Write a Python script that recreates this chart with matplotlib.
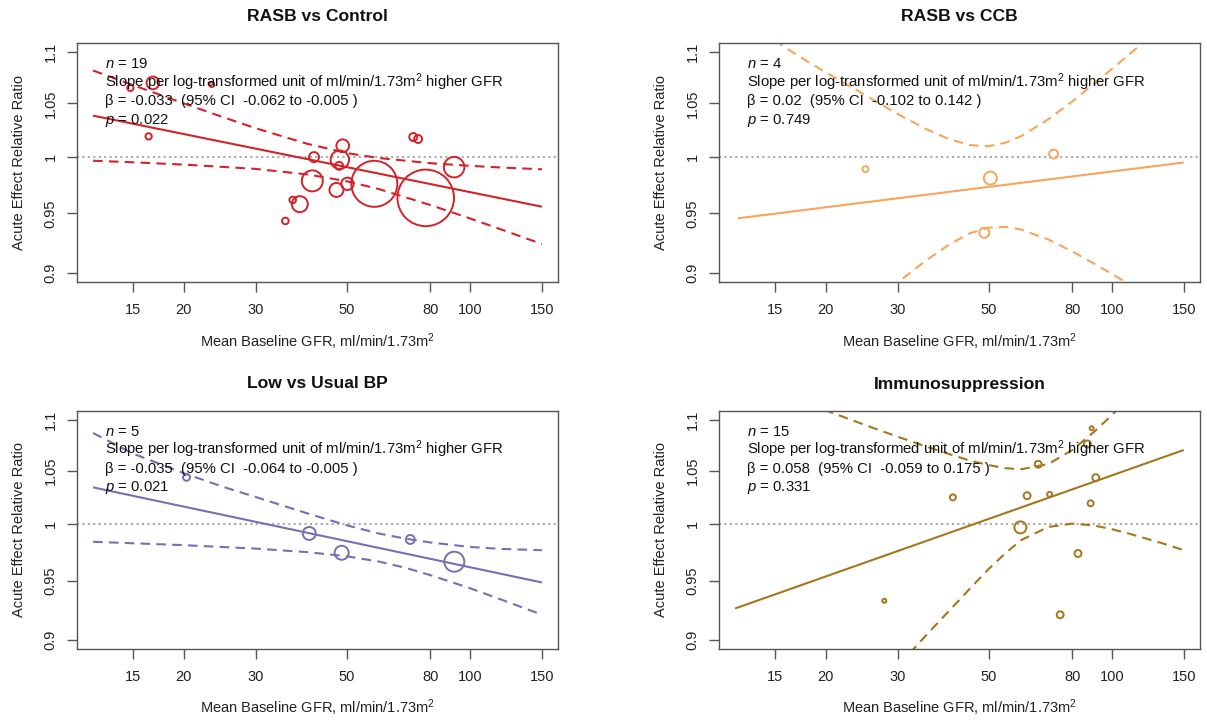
import matplotlib
matplotlib.use("Agg")
import matplotlib.pyplot as plt
from matplotlib.ticker import FixedLocator, NullLocator, FixedFormatter
import numpy as np

plt.rcParams['font.family'] = ['Liberation Sans', 'DejaVu Sans']
plt.rcParams['mathtext.fontset'] = 'custom'
plt.rcParams['mathtext.rm'] = 'Liberation Sans'
plt.rcParams['mathtext.it'] = 'Liberation Sans:italic'
plt.rcParams['mathtext.bf'] = 'Liberation Sans:bold'

# ---------------- data ----------------
x_ticks = [15, 20, 30, 50, 80, 100, 150]
x_tick_labels = ["15", "20", "30", "50", "80", "100", "150"]
y_ticks = [0.9, 0.95, 1.0, 1.05, 1.1]
y_tick_labels = ["0.9", "0.95", "1", "1.05", "1.1"]

titles = ["RASB vs Control", "RASB vs CCB", "Low vs Usual BP", "Immunosuppression"]
n_studies = [19, 4, 5, 15]
betas = ["-0.033", "0.02", "-0.035", "0.058"]
ci_lo_txt = ["-0.062", "-0.102", "-0.064", "-0.059"]
ci_hi_txt = ["-0.005", "0.142", "-0.005", "0.175"]
p_values = ["0.022", "0.749", "0.021", "0.331"]

# RASB vs Control
gfr_1 = [14.8, 16.4, 16.8, 23.4, 35.4, 36.9, 38.4, 41.2, 41.6, 47.2, 47.9, 48.1, 48.9, 50.2, 58.4, 72.7, 74.7, 78.0, 91.5]
ratio_1 = [1.0649, 1.0189, 1.0697, 1.0681, 0.9435, 0.9617, 0.958, 0.9785, 0.9999, 0.9705, 0.992, 0.9975, 1.0103, 0.9759, 0.9759, 1.0183, 1.0165, 0.9635, 0.9908]
weight_1 = [10, 10, 40, 6, 11, 11, 64, 110, 25, 49, 16, 85, 40, 38, 530, 16, 16, 800, 105]
fit_x_1 = [12, 150]
fit_y_1 = [1.0383, 0.9558]
ci_x_1 = [12, 15, 20, 25, 30, 40, 50, 60, 80, 100, 120, 150]
ci_up_1 = [1.0818, 1.0676, 1.0499, 1.0367, 1.0264, 1.0121, 1.0036, 0.9990, 0.9944, 0.9920, 0.9904, 0.9889]
ci_lo_1 = [0.9966, 0.9952, 0.9931, 0.9910, 0.9892, 0.9843, 0.9782, 0.9712, 0.9573, 0.9457, 0.9359, 0.9239]

# RASB vs CCB
gfr_2 = [25.0, 48.8, 50.5, 72.1]
ratio_2 = [0.989, 0.9334, 0.981, 1.0026]
weight_2 = [9, 25, 42, 20]
fit_x_2 = [12.2, 150]
fit_y_2 = [0.9458, 0.995]
ci_x_2 = [12, 14, 16, 18, 20, 25, 30, 35, 40, 45, 50, 55, 60, 70, 80, 90, 100, 110, 120, 135, 150]
ci_up_2 = [1.139, 1.1214, 1.104, 1.091, 1.0800, 1.0577, 1.0398, 1.0261, 1.0164, 1.0109, 1.0098, 1.0131, 1.0191, 1.0349, 1.0517, 1.068, 1.0832, 1.0973, 1.1106, 1.129, 1.1465]
ci_lo_2 = [0.785, 0.802, 0.818, 0.832, 0.844, 0.871, 0.8923, 0.9097, 0.9234, 0.9330, 0.9378, 0.9384, 0.9362, 0.9277, 0.9178, 0.9081, 0.8992, 0.8909, 0.8833, 0.8728, 0.8636]

# Low vs Usual BP
gfr_3 = [20.3, 40.5, 48.6, 71.5, 91.6]
ratio_3 = [1.0436, 0.9916, 0.9743, 0.9862, 0.9664]
weight_3 = [12, 42, 49, 20, 100]
fit_x_3 = [12, 150]
fit_y_3 = [1.0341, 0.9483]
ci_x_3 = [12, 15, 20, 25, 30, 40, 50, 60, 70, 80, 100, 120, 150]
ci_up_3 = [1.0866, 1.0665, 1.0475, 1.0345, 1.0250, 1.0100, 0.9990, 0.9915, 0.9868, 0.9835, 0.9795, 0.9777, 0.9766]
ci_lo_3 = [0.9841, 0.9828, 0.9811, 0.9794, 0.9780, 0.9749, 0.9712, 0.9665, 0.9608, 0.9547, 0.9434, 0.9333, 0.9209]

# Immunosuppression
gfr_4 = [27.8, 40.9, 59.8, 62.1, 66.1, 70.5, 74.8, 82.7, 87.2, 88.8, 89.3, 91.4]
ratio_4 = [0.9326, 1.0247, 0.9971, 1.0263, 1.0561, 1.0276, 0.9208, 0.9737, 1.0758, 1.0192, 1.0913, 1.0433]
weight_4 = [4, 9, 36, 12, 12, 6, 12, 12, 12, 9, 4, 12]
fit_x_4 = [12, 150]
fit_y_4 = [0.9261, 1.0699]
ci_x_4 = [12, 15, 18, 20, 25, 30, 35, 40, 45, 50, 55, 60, 70, 80, 90, 100, 110, 120, 135, 150]
ci_up_4 = [1.1443, 1.1289, 1.1163, 1.1092, 1.0944, 1.0829, 1.0736, 1.0660, 1.0597, 1.0553, 1.0523, 1.0513, 1.0563, 1.0698, 1.0868, 1.1043, 1.1212, 1.1374, 1.1602, 1.1814]
ci_lo_4 = [0.7483, 0.7783, 0.8037, 0.8187, 0.8513, 0.8786, 0.9030, 0.9240, 0.9430, 0.9600, 0.9740, 0.9855, 0.9975, 1.0005, 0.9990, 0.9955, 0.9915, 0.9875, 0.9820, 0.9766]

panels = [
    (gfr_1, ratio_1, weight_1, fit_x_1, fit_y_1, ci_x_1, ci_up_1, ci_lo_1),
    (gfr_2, ratio_2, weight_2, fit_x_2, fit_y_2, ci_x_2, ci_up_2, ci_lo_2),
    (gfr_3, ratio_3, weight_3, fit_x_3, fit_y_3, ci_x_3, ci_up_3, ci_lo_3),
    (gfr_4, ratio_4, weight_4, fit_x_4, fit_y_4, ci_x_4, ci_up_4, ci_lo_4),
]
colors = ["#D3232A", "#F6A65C", "#7570B3", "#A6761D"]

# ---------------- layout ----------------
W, H = 1207, 722
fig = plt.figure(figsize=(W / 100, H / 100), dpi=100)
fig.patch.set_facecolor("white")

boxes = [  # left, top, right, bottom in pixels
    (77.3, 43.3, 557.7, 281.7),
    (719.3, 43.3, 1199.5, 281.7),
    (77.3, 410.7, 557.7, 648.7),
    (719.3, 410.7, 1199.5, 648.7),
]

xlim = (10.98, 163.9)
ylim = (0.8928, 1.1089)
text_col = "#111111"
axis_col = "#555555"

for i, (box, data) in enumerate(zip(boxes, panels)):
    l, t, r, b = box
    ax = fig.add_axes([l / W, (H - b) / H, (r - l) / W, (b - t) / H])
    gfr, ratio, weight, fx, fy, cx, cu, cl = data
    col = colors[i]
    ax.set_xscale("log")
    ax.set_yscale("log")
    ax.set_xlim(*xlim)
    ax.set_ylim(*ylim)

    ax.axhline(1.0, color="#A8A8A8", lw=1.5, linestyle=(0, (1, 1.6)), zorder=1)
    ax.plot(fx, fy, color=col, lw=1.5, solid_capstyle="butt", zorder=2)
    ax.plot(cx, cu, color=col, lw=1.5, linestyle=(0, (4.6, 3.0)), zorder=2)
    ax.plot(cx, cl, color=col, lw=1.5, linestyle=(0, (4.6, 3.0)), zorder=2)
    sizes = [(2 * np.sqrt(w) * 0.72) ** 2 for w in weight]
    ax.scatter(gfr, ratio, s=sizes, facecolors="none", edgecolors=col,
               linewidths=1.4, zorder=3)

    # axes styling
    for sp in ax.spines.values():
        sp.set_color(axis_col)
        sp.set_linewidth(1.0)
    ax.xaxis.set_major_locator(FixedLocator(x_ticks))
    ax.xaxis.set_major_formatter(FixedFormatter(x_tick_labels))
    ax.xaxis.set_minor_locator(NullLocator())
    ax.yaxis.set_major_locator(FixedLocator(y_ticks))
    ax.yaxis.set_major_formatter(FixedFormatter(y_tick_labels))
    ax.yaxis.set_minor_locator(NullLocator())
    ax.tick_params(axis="both", direction="out", length=7, width=1.0,
                   color=axis_col, labelsize=10.5, labelcolor="#222222")
    ax.tick_params(axis="x", pad=8)
    ax.tick_params(axis="y", pad=7, labelrotation=90)
    for lab in ax.get_yticklabels():
        lab.set_va("center")

    # axis labels
    ax.set_xlabel(r"Mean Baseline GFR, ml/min/1.73m$^{2}$", fontsize=10.5, color="#222222")
    ax.xaxis.set_label_coords(0.5, -64.8 / (b - t))
    ax.xaxis.label.set_va("baseline")
    ax.set_ylabel("Acute Effect Relative Ratio", fontsize=10.5, color="#222222")
    ax.yaxis.set_label_coords((22.7 - 77.3) / (r - l), 0.5)
    ax.yaxis.label.set_va("baseline")

    # title
    ax.text(0.5, 1 + 22.2 / (b - t), titles[i], transform=ax.transAxes,
            ha="center", va="baseline", fontsize=12.6, fontweight="bold", color="#111111")

    # annotation text
    tx = 27.5 / (r - l)
    lines = [
        r"$n$ = %d" % n_studies[i],
        r"Slope per log-transformed unit of ml/min/1.73m$^{2}$ higher GFR",
        "\u03b2 = %s  (95%% CI  %s to %s )" % (betas[i], ci_lo_txt[i], ci_hi_txt[i]),
        r"$p$ = %s" % p_values[i],
    ]
    for k, s in enumerate(lines):
        yb = 68.5 + 18.5 * k
        ax.text(tx, 1 - (yb - 43.3) / (b - t), s, transform=ax.transAxes,
                ha="left", va="baseline", fontsize=10.7, color=text_col, zorder=5)

fig.savefig("out.png", dpi=100, facecolor="white")
